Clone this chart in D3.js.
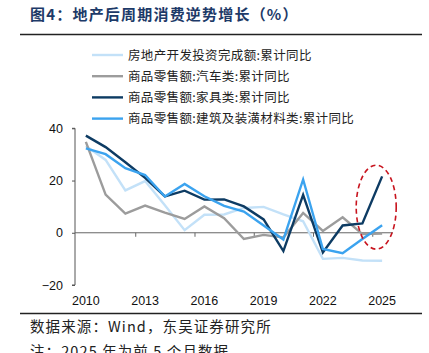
<!DOCTYPE html>
<html>
<head>
<meta charset="utf-8">
<script src="https://cdn.jsdelivr.net/npm/d3@7"></script>
<style>
  body { margin: 0; background: #fff; }
  svg { display: block; }
</style>
</head>
<body>
<div id="app"></div>
<script>
'use strict'

// annual cumulative yoy, 2025 = first 5 months
const years = d3.range(2010, 2026)
const realEstate = [33.2, 27.9, 16.2, 19.8, 10.5, 1.0, 6.9, 7.0, 9.5, 9.9, 7.0, 4.4, -10.0, -9.6, -10.6, -10.7]
const autos = [34.8, 14.6, 7.3, 10.4, 7.7, 5.3, 10.1, 5.6, -2.4, -0.8, -1.8, 7.6, 0.7, 5.9, -0.5, -0.3]
const furniture = [37.2, 32.8, 27.0, 21.0, 13.9, 16.1, 12.7, 12.8, 10.1, 5.1, -7.0, 14.5, -7.5, 2.8, 3.6, 21.6]
const building = [32.3, 30.1, 24.7, 22.1, 13.9, 18.7, 14.0, 10.3, 8.1, 2.8, -2.6, 20.4, -6.2, -7.8, -2.4, 2.9]

const seriesNames = [
  '房地产开发投资完成额:累计同比',
  '商品零售额:汽车类:累计同比',
  '商品零售额:家具类:累计同比',
  '商品零售额:建筑及装潢材料类:累计同比'
]
const yTicks = [-20, 0, 20, 40]
const xLabels = [2010, 2013, 2016, 2019, 2022, 2025]

const colors = ['#c3e1f8', '#9c9c9c', '#0d3b63', '#3ba3ef']
const series = [realEstate, autos, furniture, building].map((vals, i) => ({
  name: seriesNames[i],
  color: colors[i],
  values: vals.map((v, j) => ({ year: years[j], v }))
}))

const W = 429, H = 353
const svg = d3.select('#app').append('svg')
  .attr('width', W)
  .attr('height', H)

// title + rule
svg.append('text')
  .attr('x', 30).attr('y', 20)
  .attr('font-family', '"Noto Sans CJK SC"')
  .attr('font-size', 15)
  .attr('letter-spacing', 1.2)
  .attr('font-weight', 'bold')
  .attr('fill', '#1d3a68')
  .text('图4：地产后周期消费逆势增长（%）')
svg.append('line')
  .attr('x1', 20).attr('x2', 422)
  .attr('y1', 34.5).attr('y2', 34.5)
  .attr('stroke', '#222').attr('stroke-width', 1.6)

const x = d3.scaleLinear().domain([2009.45, 2025.55]).range([75, 393])
const y = d3.scaleLinear().domain([-20, 40]).range([285, 128.3])

// y axis
const yAxis = svg.append('g')
  .attr('transform', 'translate(75,0)')
  .call(d3.axisLeft(y).tickValues(yTicks).tickSize(3).tickPadding(9))
yAxis.select('.domain').attr('stroke', '#555').attr('d', `M-3,${y(-20)}H0V${y(40)}H-3`)
yAxis.selectAll('.tick line').attr('stroke', '#555')
yAxis.selectAll('.tick text')
  .attr('font-family', '"Liberation Sans", Arial')
  .attr('font-size', 12.5)
  .attr('fill', '#111')

// zero line with category boundary ticks
const xAxis = svg.append('g')
  .attr('transform', `translate(0,${y(0)})`)
  .call(d3.axisBottom(x)
    .tickValues(xLabels.slice(1).map(d => d - 0.5))
    .tickSize(4)
    .tickFormat(''))
xAxis.select('.domain').attr('stroke', '#666').attr('d', `M75,0H${x(2025.55)}`)
xAxis.selectAll('.tick line').attr('stroke', '#666')

svg.append('g').selectAll('text')
  .data(xLabels)
  .enter().append('text')
  .attr('x', d => x(d))
  .attr('y', 305)
  .attr('text-anchor', 'middle')
  .attr('font-family', '"Liberation Sans", Arial')
  .attr('font-size', 12.5)
  .attr('fill', '#111')
  .text(d => d)

// lines
const line = d3.line().x(d => x(d.year)).y(d => y(d.v))
svg.append('g').selectAll('path')
  .data(series)
  .enter().append('path')
  .attr('d', d => line(d.values))
  .attr('fill', 'none')
  .attr('stroke', d => d.color)
  .attr('stroke-width', 2.4)
  .attr('stroke-linejoin', 'miter')

// highlight ellipse
svg.append('ellipse')
  .attr('cx', x(2024.7)).attr('cy', y(9.8))
  .attr('rx', 20).attr('ry', 42)
  .attr('fill', 'none')
  .attr('stroke', '#c8141e')
  .attr('stroke-width', 1.6)
  .attr('stroke-dasharray', '5,3.5')

// legend
const legend = svg.append('g').selectAll('g')
  .data(series)
  .enter().append('g')
  .attr('transform', (d, i) => `translate(92,${55 + i * 21.2})`)
legend.append('line')
  .attr('x1', 0).attr('x2', 31)
  .attr('stroke', d => d.color)
  .attr('stroke-width', 2.4)
legend.append('text')
  .attr('x', 36).attr('y', 4.5)
  .attr('font-family', '"Noto Sans CJK SC"')
  .attr('font-size', 12.5)
  .attr('letter-spacing', 0.35)
  .attr('fill', '#222')
  .text(d => d.name)

// footer
svg.append('line')
  .attr('x1', 20).attr('x2', 422)
  .attr('y1', 313.5).attr('y2', 313.5)
  .attr('stroke', '#222').attr('stroke-width', 1.4)
svg.append('text')
  .attr('x', 30).attr('y', 332)
  .attr('font-family', '"Noto Sans CJK SC"')
  .attr('font-size', 14.5)
  .attr('letter-spacing', 1.1)
  .attr('fill', '#222')
  .text('数据来源：Wind，东吴证券研究所')
svg.append('text')
  .attr('x', 30).attr('y', 357)
  .attr('font-family', '"Noto Sans CJK SC"')
  .attr('font-size', 14.5)
  .attr('letter-spacing', 1.1)
  .attr('fill', '#222')
  .text('注：2025 年为前 5 个月数据')
</script>
</body>
</html>
